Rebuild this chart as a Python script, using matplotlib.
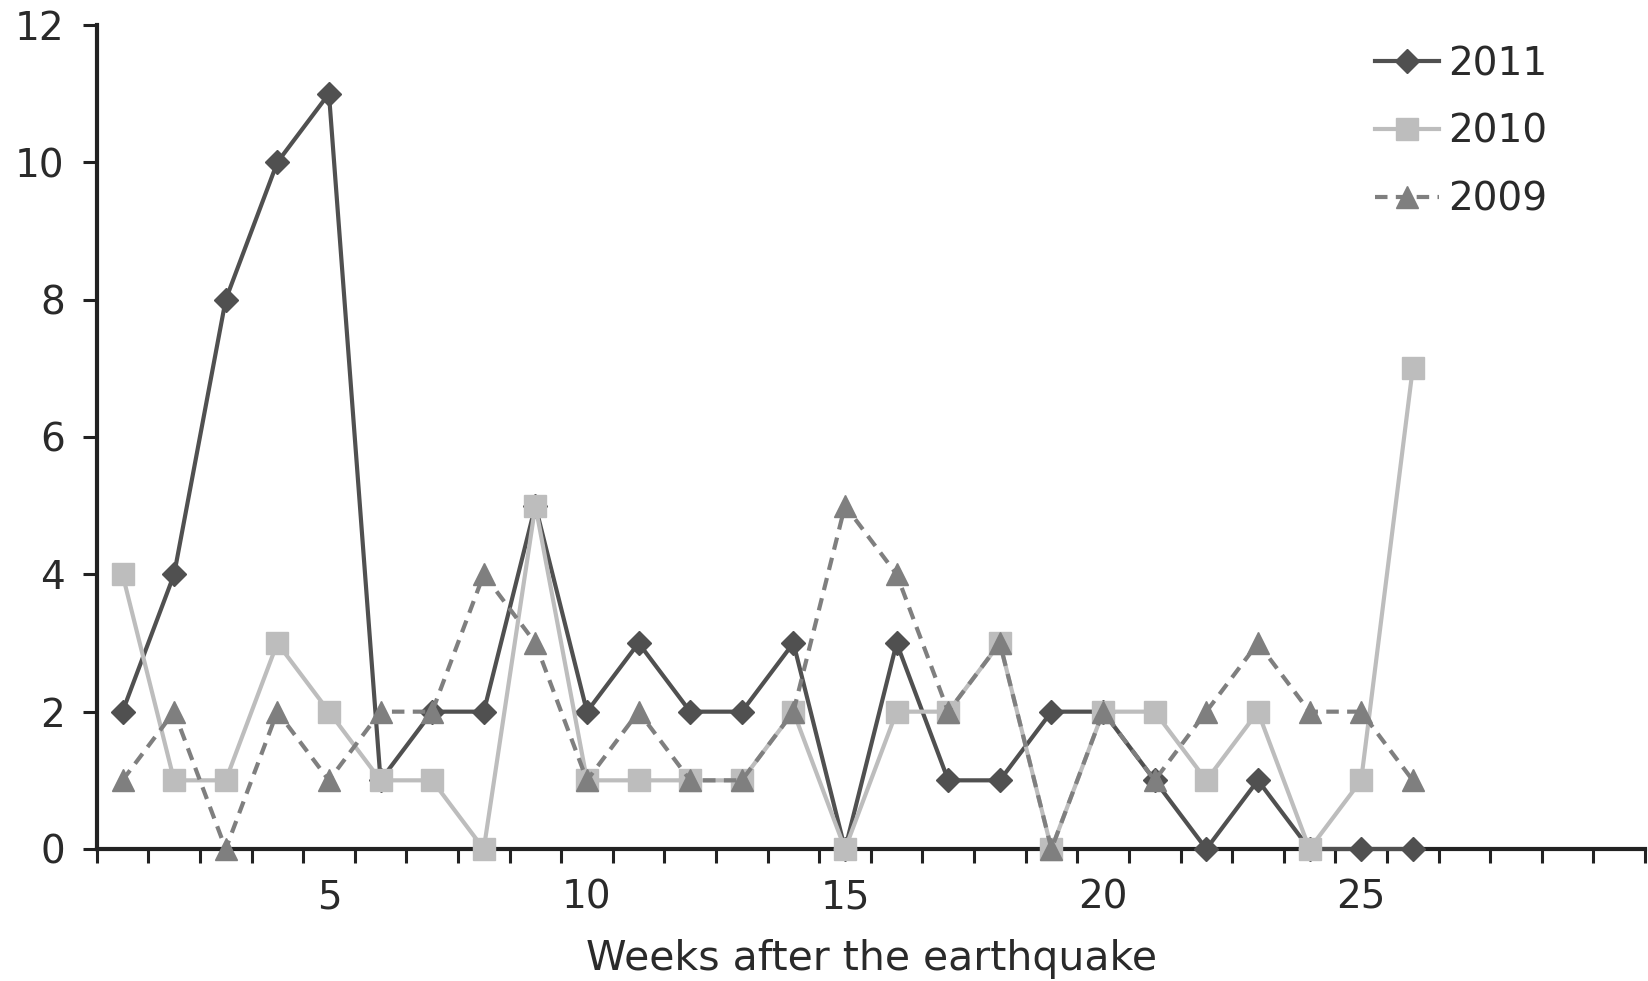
import matplotlib
matplotlib.use("Agg")
import matplotlib.pyplot as plt
import numpy as np

weeks = list(range(1, 27))
y2011 = [2, 4, 8, 10, 11, 1, 2, 2, 5, 2, 3, 2, 2, 3, 0, 3, 1, 1, 2, 2, 1, 0, 1, 0, 0, 0]
y2010 = [4, 1, 1, 3, 2, 1, 1, 0, 5, 1, 1, 1, 1, 2, 0, 2, 2, 3, 0, 2, 2, 1, 2, 0, 1, 7]
y2009 = [1, 2, 0, 2, 1, 2, 2, 4, 3, 1, 2, 1, 1, 2, 5, 4, 2, 3, 0, 2, 1, 2, 3, 2, 2, 1]
series_labels = ["2011", "2010", "2009"]
xtick_labels = ["5", "10", "15", "20", "25"]
yticks = [0, 2, 4, 6, 8, 10, 12]
xlabel = "Weeks after the earthquake"

plt.rcParams['font.family'] = ['DejaVu Sans']

fig = plt.figure(figsize=(16.49, 9.81), dpi=100)
ax = fig.add_axes([96.7/1649, 1-849/981, (1645-96.7)/1649, (849-25)/981])

c11, c10, c09 = "#505050", "#bdbdbd", "#7f7f7f"
tc = "#2a2a2a"
ax.plot(weeks, y2011, color=c11, lw=3, marker="D", ms=12, mec=c11, mfc=c11,
        label=series_labels[0], clip_on=False, zorder=3)
ax.plot(weeks, y2010, color=c10, lw=3, marker="s", ms=16.5, mec=c10, mfc=c10,
        label=series_labels[1], clip_on=False, zorder=4)
ax.plot(weeks, y2009, color=c09, lw=3, ls=(0, (3, 2)), marker="^", ms=16, mec=c09, mfc=c09,
        label=series_labels[2], clip_on=False, zorder=5)

ax.set_xlim(0.5, 30.5)
ax.set_ylim(0, 12)
ax.set_yticks(yticks)
ax.set_yticklabels([str(v) for v in yticks])
ax.set_xticks(np.arange(0.5, 31, 1))
ax.set_xticklabels([])
ax.set_xticks([5, 10, 15, 20, 25], minor=True)
ax.set_xticklabels(xtick_labels, minor=True)

for s in ["top", "right"]:
    ax.spines[s].set_visible(False)
for s in ["left", "bottom"]:
    ax.spines[s].set_linewidth(3)
    ax.spines[s].set_color("#222222")

ax.tick_params(axis="both", which="major", length=10, width=2.2, color="#222222",
               labelsize=28, labelcolor=tc)
ax.tick_params(axis="y", pad=13)
ax.tick_params(axis="x", which="minor", length=0, labelsize=28, labelcolor=tc, pad=21)

fig.text(872/1649, 1 - 970/981, xlabel, fontsize=29.5, color=tc, ha="center", va="baseline")

leg = ax.legend(loc="upper left", bbox_to_anchor=(1375/1649, 1 - 45/981),
                bbox_transform=fig.transFigure, frameon=False, fontsize=28,
                handlelength=1.65, handletextpad=0.23, labelspacing=0.77, borderaxespad=0.0,
                borderpad=0.0)
for t in leg.get_texts():
    t.set_color(tc)

fig.savefig("out.png", dpi=100)
